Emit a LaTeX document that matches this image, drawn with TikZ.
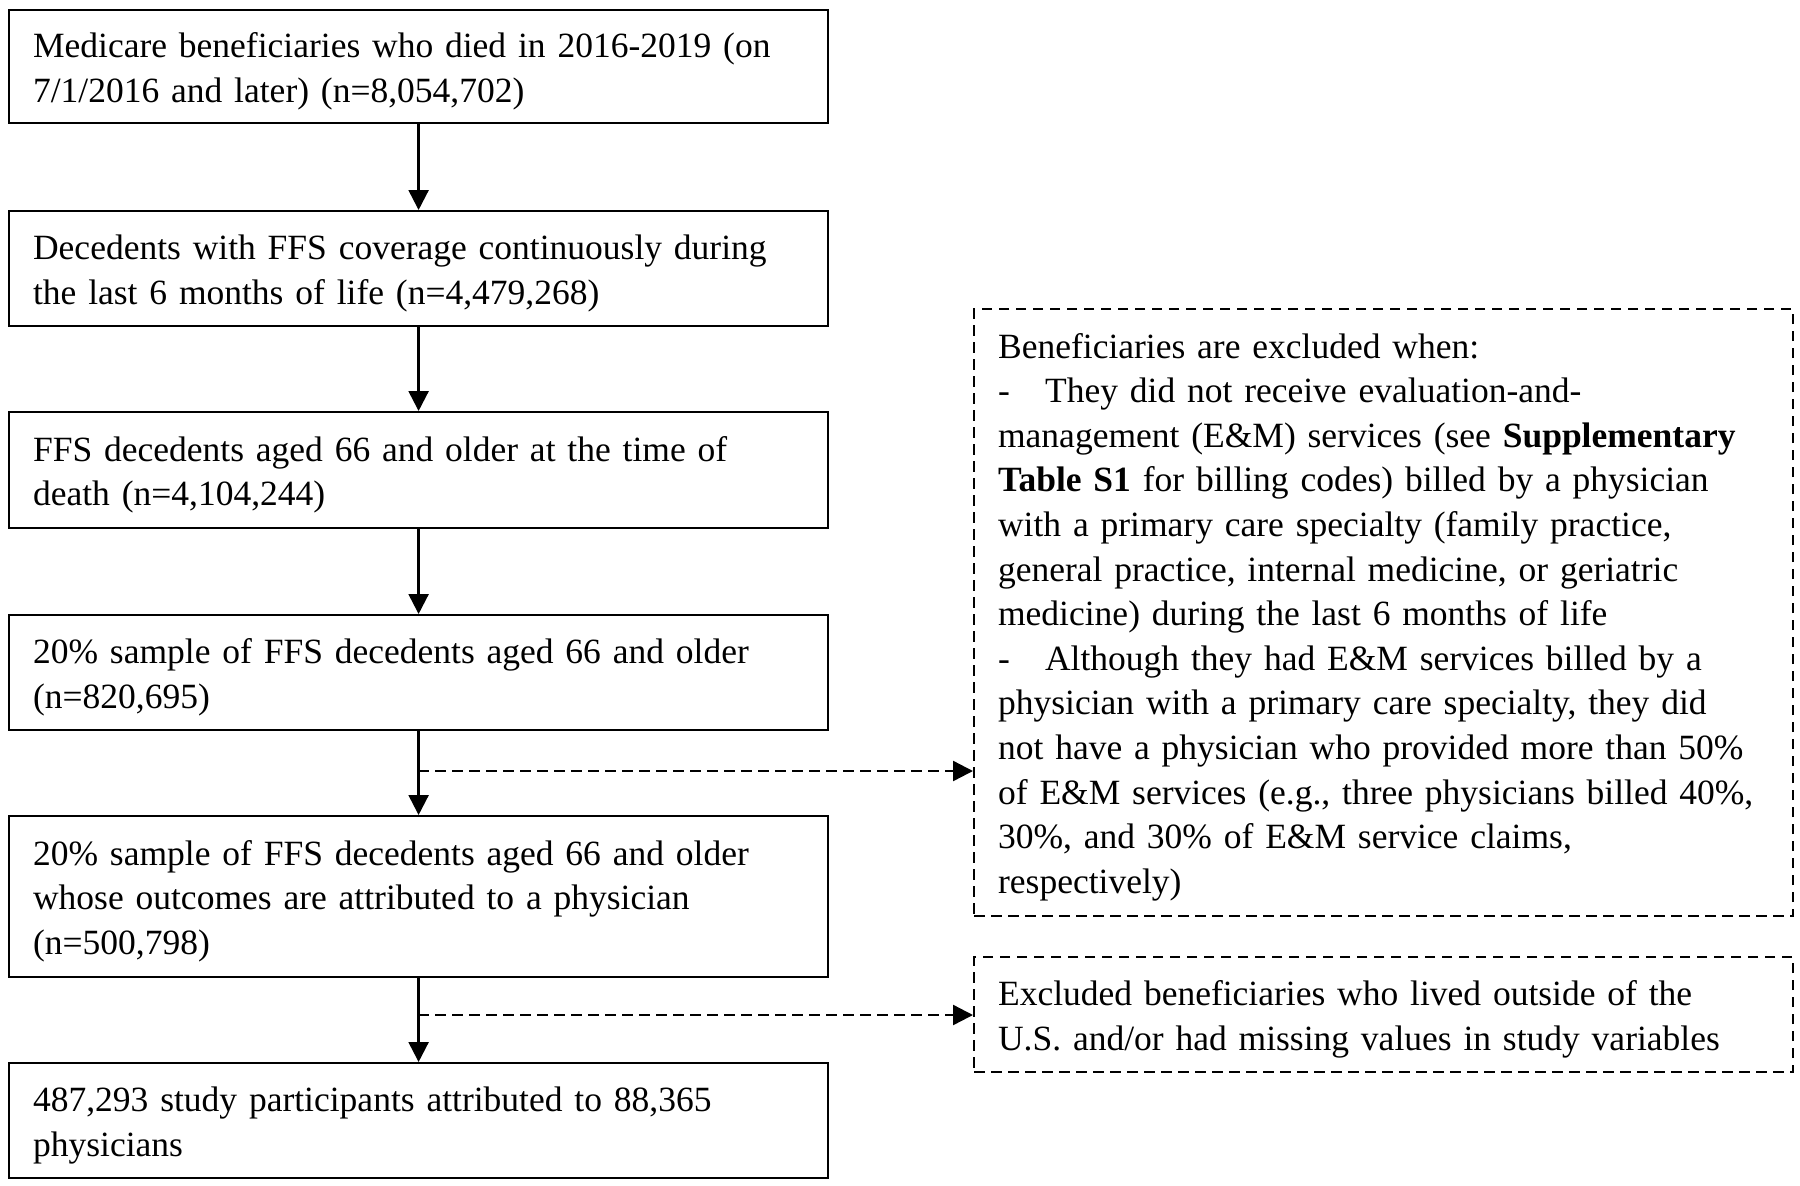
\documentclass[tikz,border=0pt]{standalone}
\usepackage{fontspec}
\setmainfont{Liberation Serif}
\usetikzlibrary{arrows.meta}
\begin{document}
\begin{tikzpicture}[x=1pt,y=-1pt,
 box/.style={draw,line width=2.2pt,anchor=north west,text width=771pt,inner xsep=24pt,inner ysep=0pt,align=left,font=\fontsize{35.5}{44.6}\selectfont,execute at begin node={\rule{0pt}{34pt}}},
 dbox/.style={box,dash pattern=on 10.5pt off 6.5pt,line width=2.2pt},
 arr/.style={line width=2.4pt,-{Triangle[length=20pt,width=20pt]}},
 darr/.style={arr,dash pattern=on 10.5pt off 6.5pt}]
\useasboundingbox (0,0) rectangle (1800,1186);
\node[box,minimum height=113pt] (b1) at (8,9) {Medicare beneficiaries who died in 2016-2019 (on\\7/1/2016 and later) (n=8,054,702)};
\node[box,minimum height=115pt] (b2) at (8,210) {Decedents with FFS coverage continuously during\\the last 6 months of life (n=4,479,268)};
\node[box,minimum height=116pt] (b3) at (8,411) {FFS decedents aged 66 and older at the time of\\death (n=4,104,244)};
\node[box,minimum height=115pt] (b4) at (8,614) {20\% sample of FFS decedents aged 66 and older\\(n=820,695)};
\node[box,minimum height=161pt] (b5) at (8,815) {20\% sample of FFS decedents aged 66 and older\\whose outcomes are attributed to a physician\\(n=500,798)};
\node[box,minimum height=115pt] (b6) at (8,1062) {487,293 study participants attributed to 88,365\\physicians};
\node[dbox,minimum height=607pt] (e1) at (973,308) {Beneficiaries are excluded when:\\
\makebox[47pt][l]{-}They did not receive evaluation-and-\\
management (E\&M) services (see \textbf{Supplementary}\\
\textbf{Table S1} for billing codes) billed by a physician\\
with a primary care specialty (family practice,\\
general practice, internal medicine, or geriatric\\
medicine) during the last 6 months of life\\
\makebox[47pt][l]{-}Although they had E\&M services billed by a\\
physician with a primary care specialty, they did\\
not have a physician who provided more than 50\%\\
of E\&M services (e.g., three physicians billed 40\%,\\
30\%, and 30\% of E\&M service claims,\\
respectively)};
\node[dbox,minimum height=115pt] (e2) at (973,956) {Excluded beneficiaries who lived outside of the\\U.S. and/or had missing values in study variables};
\draw[arr] (b1.south) -- (b2.north);
\draw[arr] (b2.south) -- (b3.north);
\draw[arr] (b3.south) -- (b4.north);
\draw[arr] (b4.south) -- (b5.north);
\draw[arr] (b5.south) -- (b6.north);
\coordinate (d1) at (418,771);
\coordinate (d2) at (418,1015);
\draw[darr] (d1) -- (d1 -| e1.west);
\draw[darr] (d2) -- (d2 -| e2.west);
\end{tikzpicture}
\end{document}
